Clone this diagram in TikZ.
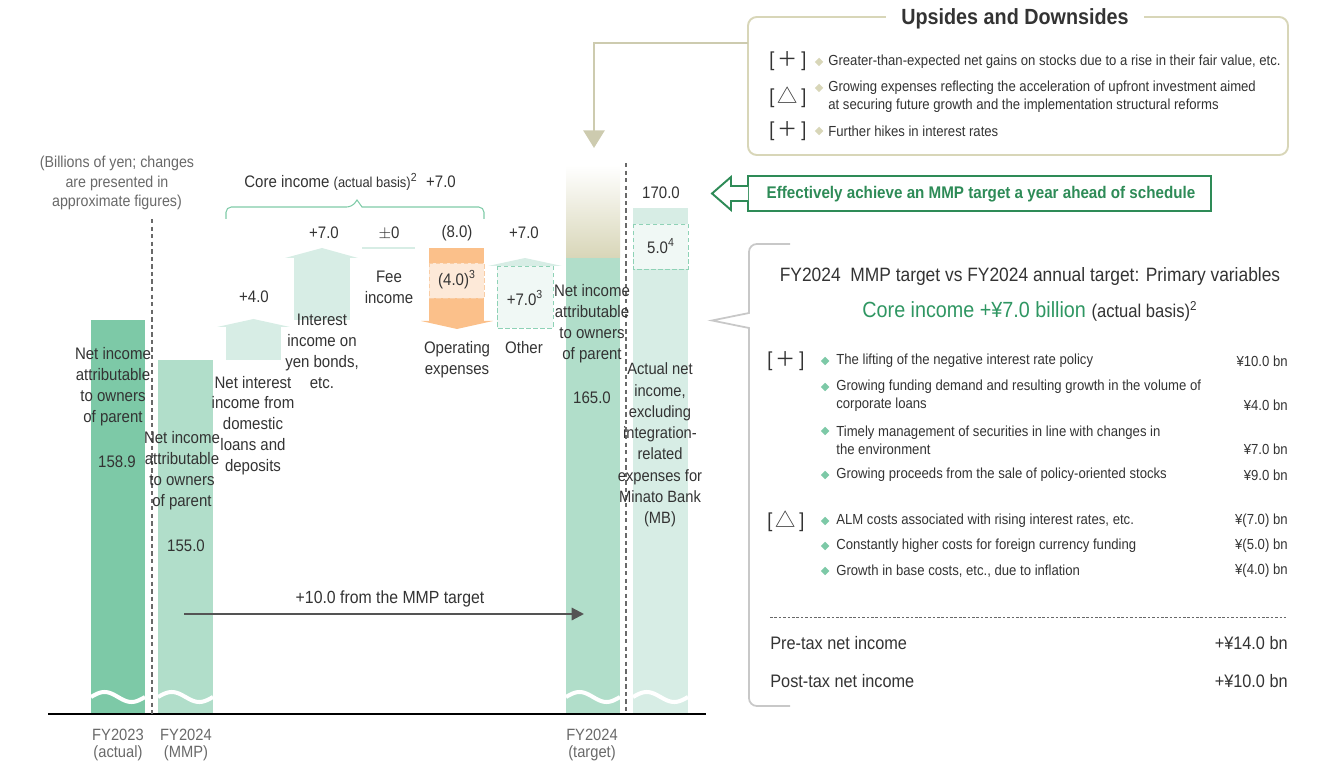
\documentclass[tikz,border=0pt]{standalone}
\usepackage{fontspec}
\setmainfont{Liberation Sans}[FakeStretch=0.9]
\newfontfamily\cjk{Noto Sans CJK JP}
\usetikzlibrary{shapes.geometric}
\usetikzlibrary{arrows.meta}

\begin{document}
\begin{tikzpicture}[x=0.02cm, y=-0.02cm,
    lbl/.style={inner sep=0pt, text=ink, align=center, font=\fontsize{9.5}{11.9}\selectfont},
    note/.style={lbl, text=inkgray, font=\fontsize{9}{11.2}\selectfont},
    axislbl/.style={lbl, text=inkgray, font=\fontsize{9.3}{10.2}\selectfont},
    item/.style={inner sep=0pt, text=ink, anchor=west, align=left, font=\fontsize{8.3}{10.2}\selectfont},
    val/.style={inner sep=0pt, text=ink, anchor=east, font=\fontsize{8.3}{10.2}\selectfont},
    signmark/.style={inner sep=0pt, text=ink, font=\fontsize{11.5}{13}\selectfont},
    gem/.style={diamond, fill=#1, inner sep=0pt, minimum size=5pt},
    wave/.style={white, line width=2.3pt},
    dashv/.style={inkgray, line width=0.7pt, dash pattern=on 2.5pt off 1.8pt}]
    % colours
    \definecolor{ink}{RGB}{51, 51, 51}
    \definecolor{inkgray}{RGB}{105, 105, 105}
    \definecolor{bardark}{RGB}{125, 201, 167}
    \definecolor{barmid}{RGB}{177, 222, 202}
    \definecolor{barlight}{RGB}{215, 237, 229}
    \definecolor{barpale}{RGB}{240, 248, 245}
    \definecolor{dashgreen}{RGB}{142, 210, 182}
    \definecolor{opex}{RGB}{251, 192, 138}
    \definecolor{opexlight}{RGB}{253, 233, 216}
    \definecolor{opexdash}{RGB}{249, 205, 165}
    \definecolor{khaki}{RGB}{216, 214, 184}
    \definecolor{okgreen}{RGB}{47, 150, 98}
    \definecolor{boxgreen}{RGB}{46, 139, 87}
    \definecolor{bracegreen}{RGB}{127, 203, 168}
    \definecolor{calloutgray}{RGB}{200, 200, 200}

    \useasboundingbox (0,0) rectangle (1326,763);

    % bars
    \fill[bardark] (91,320) rectangle (145,714);
    \fill[barmid] (158,360) rectangle (213,714);
    \shade[top color=white, bottom color=khaki] (566,165) rectangle (620,258);
    \fill[barmid] (566,258) rectangle (620,714);
    \fill[barlight] (633,208) rectangle (688,714);
    \draw[dashgreen, fill=barpale, dash pattern=on 2.5pt off 1.5pt] (633,224) rectangle (688,269);

    % steps
    \fill[barlight] (226,327) rectangle (281,360);
    \fill[barlight] (217,327) -- (290,327) -- (253.5,319) -- cycle;
    \fill[barlight] (294,258) rectangle (350,320);
    \fill[barlight] (285,258) -- (358,258) -- (322,248) -- cycle;
    \draw[barlight, line width=0.6pt] (362,248) -- (415,248);
    \fill[opex] (429,248) rectangle (484,321);
    \fill[opex] (421,321) -- (493,321) -- (457,329) -- cycle;
    \draw[opexdash, fill=opexlight, dash pattern=on 2.5pt off 1.5pt] (429,263) rectangle (484,298);
    \fill[barlight] (488,266) -- (562,266) -- (525,258) -- cycle;
    \draw[dashgreen, fill=barpale, dash pattern=on 2.5pt off 1.5pt] (497,266) rectangle (553,328);

    % breaks
    \foreach \xa/\xb in {91/145, 158/213, 566/620, 633/688}
        \draw[wave] plot[domain=\xa:\xb, samples=30] (\x, {697-5*sin(360/(\xb-\xa)*(\x-\xa))});

    % axis and separators
    \draw[black, line width=0.7pt] (48,714) -- (706,714);
    \draw[dashv] (152,219) -- (152,714);
    \draw[dashv] (626,163) -- (626,714);

    % core income brace
    \draw[bracegreen, line width=0.6pt] (226,219) [rounded corners=3pt] |- (352,207) [sharp corners] -- (357,200) -- (362,207) [rounded corners=3pt] -| (484,219);
    \node[lbl, anchor=west] (corelbl) at (244,182) {Core income {\fontsize{8.2}{10}\selectfont (actual basis)}\textsuperscript{2}};
    \node[lbl] (coreval) at (441,182) {+7.0};

    % unit note
    \node[note] (unitnote) at (117,183) {(Billions of yen; changes\\are presented in\\approximate figures)};

    % values
    \node[lbl] (v4) at (254,297) {+4.0};
    \node[lbl] (v7a) at (324,233) {+7.0};
    \node[lbl] (vfee) at (389,233) {$\pm$0};
    \node[lbl] (vopex) at (457,233) {(8.0)};
    \node[lbl] (vother) at (524,233) {+7.0};
    \node[lbl] (vact) at (661,193) {170.0};
    \node[lbl] (vopexin) at (457,280) {(4.0)\textsuperscript{3}};
    \node[lbl] (votherin) at (525,298) {+7.0\textsuperscript{3}};
    \node[lbl] (vmb) at (661,246) {5.0\textsuperscript{4}};

    % descriptions
    \node[lbl] (dloans) at (253,425.5) {Net interest\\income from\\domestic\\loans and\\deposits};
    \node[lbl] (dbonds) at (322,351) {Interest\\income on\\yen bonds,\\etc.};
    \node[lbl] (dfee) at (389,287) {Fee\\income};
    \node[lbl] (dopex) at (457,360) {Operating\\expenses};
    \node[lbl] (dother) at (524,348) {Other};

    % bar texts
    \node[lbl] (b23) at (113,386.5) {Net income\\attributable\\to owners\\of parent};
    \node[lbl] (b23v) at (117,462) {158.9};
    \node[lbl] (bmmp) at (182,470.5) {Net income\\attributable\\to owners\\of parent};
    \node[lbl] (bmmpv) at (186,546) {155.0};
    \node[lbl] (btgt) at (592,323.5) {Net income\\attributable\\to owners\\of parent};
    \node[lbl] (btgtv) at (592,398) {165.0};
    \node[lbl, font=\fontsize{9.3}{12.1}\selectfont] (bact) at (660,445) {Actual net\\income,\\excluding\\integration-\\related\\expenses for\\Minato Bank\\(MB)};

    % gap to the MMP target
    \coordinate (mmpmark) at (184,614);
    \coordinate (tgtmark) at (584,614);
    \draw[-{Triangle[width=7pt,length=7pt]}, line width=1.2pt, black!67] (mmpmark) -- (tgtmark);
    \node[lbl, font=\fontsize{10}{12}\selectfont] (gaplbl) at (390,599) {+10.0 from the MMP target};

    % axis labels
    \node[axislbl] (fy23) at (118,745) {FY2023\\(actual)};
    \node[axislbl] (fymmp) at (186,745) {FY2024\\(MMP)};
    \node[axislbl] (fytgt) at (592,745) {FY2024\\(target)};

    % upsides and downsides
    \draw[khaki, line width=1.1pt, rounded corners=5pt] (748,17) rectangle (1288,155);
    \node[lbl, fill=white, inner xsep=9pt, inner ysep=2pt, font=\bfseries\fontsize{12.5}{14}\selectfont] (udtitle) at (1015,19) {Upsides and Downsides};
    \coordinate (udwest) at (748,43);
    \coordinate (tgthead) at (594,148);
    \draw[khaki!95!black, line width=1.3pt, -{Triangle[width=12pt,length=10pt]}] (udwest) -| (tgthead);
    \node[signmark] (udm1) at (788,61) {[\,{\cjk ＋}\,]};
    \node[signmark] (udm2) at (788,97) {[\,{\cjk △}\,]};
    \node[signmark] (udm3) at (788,131) {[\,{\cjk ＋}\,]};
    \node[gem=khaki] (udg1) at (819,62) {};
    \node[gem=khaki] (udg2) at (819,88) {};
    \node[gem=khaki] (udg3) at (819,131) {};
    \node[item] (udt1) at (828,62) {Greater-than-expected net gains on stocks due to a rise in their fair value, etc.};
    \node[item] (udt2) at (828,97) {Growing expenses reflecting the acceleration of upfront investment aimed\\at securing future growth and the implementation structural reforms};
    \node[item] (udt3) at (828,131) {Further hikes in interest rates};

    % ahead of schedule
    \draw[boxgreen, line width=1.1pt] (748,176) rectangle (1211,211);
    \draw[boxgreen, line width=1.1pt, fill=white] (748,186) -- (731,186) -- (731,177) -- (712,193.5) -- (731,210) -- (731,201) -- (748,201);
    \node[lbl, text=boxgreen, font=\bfseries\fontsize{9.6}{11}\selectfont] (aheadlbl) at (981,194) {Effectively achieve an MMP target a year ahead of schedule};

    % primary variables panel
    \draw[calloutgray, line width=1pt] (790,244) [rounded corners=4.5pt] -| (749,290) [sharp corners] -- (749,313) -- (712,320.5) -- (749,328) -- (749,680) [rounded corners=4.5pt] |- (790,706);
    \node[lbl, font=\fontsize{11}{13}\selectfont] (pvtitle) at (1030,277) {FY2024\ \ MMP target vs FY2024 annual target: Primary variables};
    \node[lbl, font=\fontsize{12.5}{14}\selectfont] (pvcore) at (1030,311) {\textcolor{okgreen}{Core income +¥7.0 billion} {\fontsize{10.5}{12}\selectfont (actual basis)\textsuperscript{2}}};
    \node[signmark] (pvm1) at (786,361) {[\,{\cjk ＋}\,]};
    \node[signmark] (pvm2) at (786,521) {[\,{\cjk △}\,]};
    \foreach \y [count=\i] in {361, 387, 431, 475, 521, 546, 571}
        \node[gem=bardark] (pvg\i) at (825,\y) {};
    \node[item] (pvt1) at (836,361) {The lifting of the negative interest rate policy};
    \node[item] (pvt2) at (836,396) {Growing funding demand and resulting growth in the volume of\\corporate loans};
    \node[item] (pvt3) at (836,440) {Timely management of securities in line with changes in\\the environment};
    \node[item] (pvt4) at (836,475) {Growing proceeds from the sale of policy-oriented stocks};
    \node[item] (pvt5) at (836,521) {ALM costs associated with rising interest rates, etc.};
    \node[item] (pvt6) at (836,546) {Constantly higher costs for foreign currency funding};
    \node[item] (pvt7) at (836,571) {Growth in base costs, etc., due to inflation};
    \node[val] (pvv1) at (1288,361) {¥10.0 bn};
    \node[val] (pvv2) at (1288,405) {¥4.0 bn};
    \node[val] (pvv3) at (1288,449) {¥7.0 bn};
    \node[val] (pvv4) at (1288,475) {¥9.0 bn};
    \node[val] (pvv5) at (1288,521) {¥(7.0) bn};
    \node[val] (pvv6) at (1288,546) {¥(5.0) bn};
    \node[val] (pvv7) at (1288,571) {¥(4.0) bn};
    \draw[inkgray, line width=0.5pt, dash pattern=on 1.5pt off 1pt] (770,617) -- (1286,617);
    \node[item, font=\fontsize{10.3}{12}\selectfont] (pretax) at (770,643) {Pre-tax net income};
    \node[val, font=\fontsize{10.3}{12}\selectfont] (pretaxv) at (1288,643) {+¥14.0 bn};
    \node[item, font=\fontsize{10.3}{12}\selectfont] (posttax) at (770,681) {Post-tax net income};
    \node[val, font=\fontsize{10.3}{12}\selectfont] (posttaxv) at (1288,681) {+¥10.0 bn};
\end{tikzpicture}
\end{document}
